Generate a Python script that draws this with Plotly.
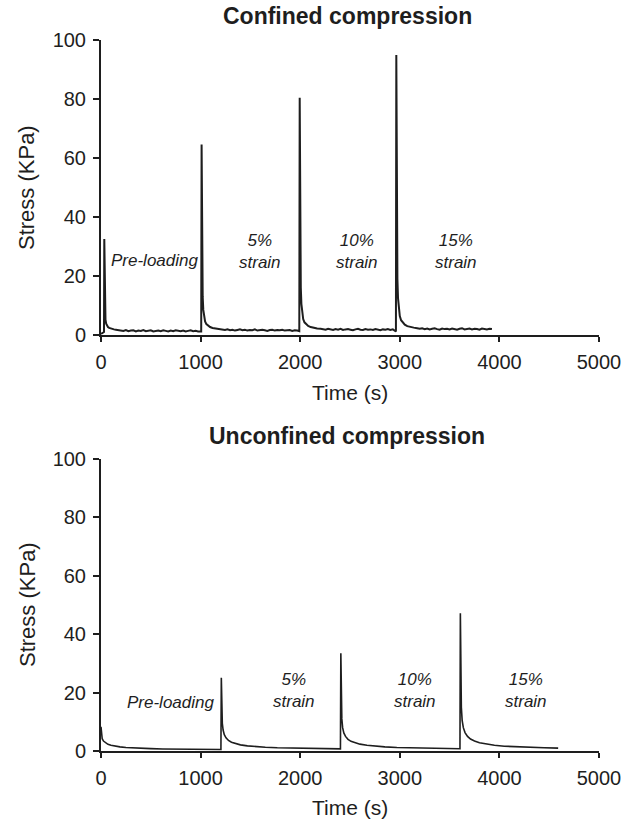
import plotly.graph_objects as go

# ---- Confined compression: stress relaxation record (time in s, stress in kPa)
conf_pre_t = [0, 10, 20, 30, 33, 36, 40, 45, 52, 60, 70, 82, 96, 112, 130, 150, 175,
              200, 225, 250, 275, 300, 325, 350, 375, 400, 425, 450, 475, 500, 525, 550, 575,
              600, 625, 650, 675, 700, 725, 750, 775, 800, 825, 850, 875, 900, 925, 950, 975,
              1000, 1006]
conf_pre_kpa = [0.4, 0.6, 0.8, 1.0, 32.5, 17, 8.5, 5.2, 3.8, 3.1, 2.7, 2.4, 2.2, 2.0, 1.9, 1.8, 1.7,
                1.6, 1.4, 1.7, 1.3, 1.5, 1.6, 1.2, 1.5, 1.4, 1.7, 1.3, 1.5, 1.6, 1.2, 1.4, 1.5,
                1.3, 1.6, 1.4, 1.2, 1.5, 1.3, 1.6, 1.4, 1.3, 1.5, 1.2, 1.4, 1.6, 1.3, 1.4, 1.2,
                1.3, 1.2]

conf_5_t = [1010, 1013, 1017, 1021, 1027, 1035, 1045, 1058, 1075, 1095, 1120, 1150, 1185, 1220,
            1245, 1270, 1295, 1320, 1345, 1370, 1395, 1420, 1445, 1470, 1495, 1520, 1545, 1570, 1595,
            1620, 1645, 1670, 1695, 1720, 1745, 1770, 1795, 1820, 1845, 1870, 1895, 1920, 1945, 1970,
            1985, 1991]
conf_5_kpa = [64.6, 38, 21, 13, 8.5, 6.0, 4.6, 3.7, 3.1, 2.7, 2.4, 2.2, 2.0, 1.9,
              1.7, 1.9, 1.6, 1.8, 1.5, 1.7, 1.9, 1.6, 1.8, 1.5, 1.7, 1.6, 1.9, 1.5, 1.7,
              1.8, 1.6, 1.4, 1.7, 1.8, 1.5, 1.7, 1.6, 1.8, 1.5, 1.6, 1.7, 1.4, 1.6, 1.5,
              1.4, 1.3]

conf_10_t = [1995, 1998, 2002, 2006, 2012, 2020, 2030, 2043, 2060, 2080, 2105, 2135, 2170, 2205,
             2230, 2255, 2280, 2305, 2330, 2355, 2380, 2405, 2430, 2455, 2480, 2505, 2530, 2555, 2580,
             2605, 2630, 2655, 2680, 2705, 2730, 2755, 2780, 2805, 2830, 2855, 2880, 2905, 2930,
             2950, 2961]
conf_10_kpa = [80.4, 48, 27, 16, 10.5, 7.2, 5.4, 4.3, 3.6, 3.1, 2.7, 2.4, 2.2, 2.1,
               2.0, 1.8, 2.1, 1.9, 1.7, 2.0, 1.8, 2.1, 1.7, 1.9, 2.0, 1.8, 1.6, 1.9, 2.1,
               1.8, 1.7, 2.0, 1.8, 1.9, 1.7, 2.0, 1.8, 1.6, 1.9, 1.8, 2.0, 1.7, 1.9,
               1.4, 1.2]

conf_15_t = [2965, 2968, 2972, 2976, 2982, 2990, 3000, 3013, 3030, 3050, 3075, 3105, 3140, 3175,
             3200, 3225, 3250, 3275, 3300, 3325, 3350, 3375, 3400, 3425, 3450, 3475, 3500, 3525, 3550,
             3575, 3600, 3625, 3650, 3675, 3700, 3725, 3750, 3775, 3800, 3825, 3850, 3875, 3900, 3925]
conf_15_kpa = [94.9, 56, 32, 19, 12.5, 8.6, 6.4, 5.0, 4.1, 3.5, 3.0, 2.7, 2.5, 2.3,
               2.1, 2.3, 2.0, 2.2, 1.9, 2.1, 2.3, 2.0, 1.8, 2.2, 2.0, 2.1, 1.9, 2.2, 2.0,
               1.8, 2.1, 2.3, 1.9, 2.0, 2.2, 1.9, 2.1, 2.0, 1.8, 2.2, 2.0, 1.9, 2.1, 2.0]

# ---- Unconfined compression
unc_pre_t = [0, 5, 12, 25, 45, 70, 100, 140, 190, 250, 320, 400, 500, 620, 760, 900, 1050, 1150, 1204]
unc_pre_kpa = [8.3, 5.5, 4.2, 3.4, 2.8, 2.3, 1.95, 1.65, 1.4, 1.2, 1.05, 0.9, 0.8, 0.7, 0.62, 0.56,
               0.52, 0.5, 0.5]

unc_5_t = [1208, 1212, 1218, 1226, 1238, 1255, 1280, 1310, 1350, 1400, 1470, 1550, 1650, 1770, 1900,
           2050, 2200, 2350, 2404]
unc_5_kpa = [25.1, 14, 9.5, 7.2, 5.6, 4.5, 3.6, 3.0, 2.5, 2.1, 1.75, 1.5, 1.3, 1.12, 1.0,
             0.9, 0.82, 0.76, 0.74]

unc_10_t = [2408, 2412, 2418, 2426, 2438, 2455, 2480, 2510, 2550, 2600, 2670, 2750, 2850, 2970, 3100,
            3250, 3400, 3550, 3604]
unc_10_kpa = [33.5, 18, 11, 8, 6.2, 5.0, 4.0, 3.3, 2.8, 2.35, 1.95, 1.65, 1.4, 1.22, 1.08,
              0.95, 0.87, 0.8, 0.78]

unc_15_t = [3608, 3612, 3618, 3626, 3638, 3655, 3680, 3710, 3750, 3800, 3870, 3950, 4050, 4170, 4300,
            4450, 4590]
unc_15_kpa = [47.2, 25, 15, 10.5, 8, 6.3, 5.0, 4.1, 3.4, 2.85, 2.35, 1.95, 1.65, 1.42, 1.25,
              1.1, 1.0]

panel_titles = ["Confined compression", "Unconfined compression"]
x_ticks = [0, 1000, 2000, 3000, 4000, 5000]
y_ticks = [0, 20, 40, 60, 80, 100]
step_labels = ["Pre-loading", "5%<br>strain", "10%<br>strain", "15%<br>strain"]

confined_t = conf_pre_t + conf_5_t + conf_10_t + conf_15_t
confined_kpa = conf_pre_kpa + conf_5_kpa + conf_10_kpa + conf_15_kpa
unconfined_t = unc_pre_t + unc_5_t + unc_10_t + unc_15_t
unconfined_kpa = unc_pre_kpa + unc_5_kpa + unc_10_kpa + unc_15_kpa

W, H = 635, 820
FONT = "Liberation Sans, Arial, sans-serif"
INK = "#1e1e1e"


def px(x):
    return x / W


def py(y):
    return 1 - y / H


fig = go.Figure()
fig.add_trace(go.Scatter(x=confined_t, y=confined_kpa, mode="lines",
                         line=dict(color=INK, width=2), xaxis="x", yaxis="y",
                         showlegend=False, hoverinfo="skip"))
fig.add_trace(go.Scatter(x=unconfined_t, y=unconfined_kpa, mode="lines",
                         line=dict(color=INK, width=1.6), xaxis="x2", yaxis="y2",
                         showlegend=False, hoverinfo="skip"))

x_dom = [px(101), px(599)]
top_dom = [py(335), py(40)]
bot_dom = [py(751), py(459)]

axis_common = dict(showgrid=False, zeroline=False, showline=True, linecolor=INK, linewidth=2,
                   ticks="outside", tickcolor=INK, tickwidth=2,
                   tickfont=dict(family=FONT, size=20, color=INK), automargin=False)
x_style = dict(ticklen=5, ticklabelstandoff=3, **axis_common)
y_style = dict(ticklen=6, ticklabelstandoff=3, **axis_common)

fig.update_layout(
    width=W, height=H,
    margin=dict(l=0, r=0, t=0, b=0, autoexpand=False),
    paper_bgcolor="white", plot_bgcolor="white",
    xaxis=dict(domain=x_dom, range=[0, 5000], tickvals=x_ticks, anchor="y", **x_style),
    yaxis=dict(domain=top_dom, range=[0, 100], tickvals=y_ticks, anchor="x", **y_style),
    xaxis2=dict(domain=x_dom, range=[0, 5000], tickvals=x_ticks, anchor="y2", **x_style),
    yaxis2=dict(domain=bot_dom, range=[0, 100], tickvals=y_ticks, anchor="x2", **y_style),
)

centered = dict(xanchor="center", yanchor="middle", showarrow=False)
ann = []
# panel titles and axis titles
for title, ty, xt_y, yt_y in [(panel_titles[0], 15.5, 392, 188), (panel_titles[1], 436, 807, 605)]:
    ann.append(dict(text="<b>" + title + "</b>", x=px(347), y=py(ty), xref="paper", yref="paper",
                    font=dict(family=FONT, size=23, color=INK), **centered))
    ann.append(dict(text="Time (s)", x=px(350), y=py(xt_y), xref="paper", yref="paper",
                    font=dict(family=FONT, size=21, color=INK), **centered))
    ann.append(dict(text="Stress (KPa)", x=px(27), y=py(yt_y), xref="paper", yref="paper",
                    textangle=-90, font=dict(family=FONT, size=22, color=INK), **centered))

# loading-step labels
label_font = dict(family=FONT, size=17, color=INK)
conf_pos = [(542, 25.3), (1596, 28.2), (2570, 28.2), (3564, 28.2)]
unc_pos = [(693, 16.5), (1938, 20.6), (3153, 20.6), (4267, 20.6)]
for text, (lx, ly) in zip(step_labels, conf_pos):
    ann.append(dict(text="<i>" + text + "</i>", x=lx, y=ly, xref="x", yref="y",
                    font=label_font, **centered))
for text, (lx, ly) in zip(step_labels, unc_pos):
    ann.append(dict(text="<i>" + text + "</i>", x=lx, y=ly, xref="x2", yref="y2",
                    font=label_font, **centered))

fig.update_layout(annotations=ann)
fig.write_html("out.html")
